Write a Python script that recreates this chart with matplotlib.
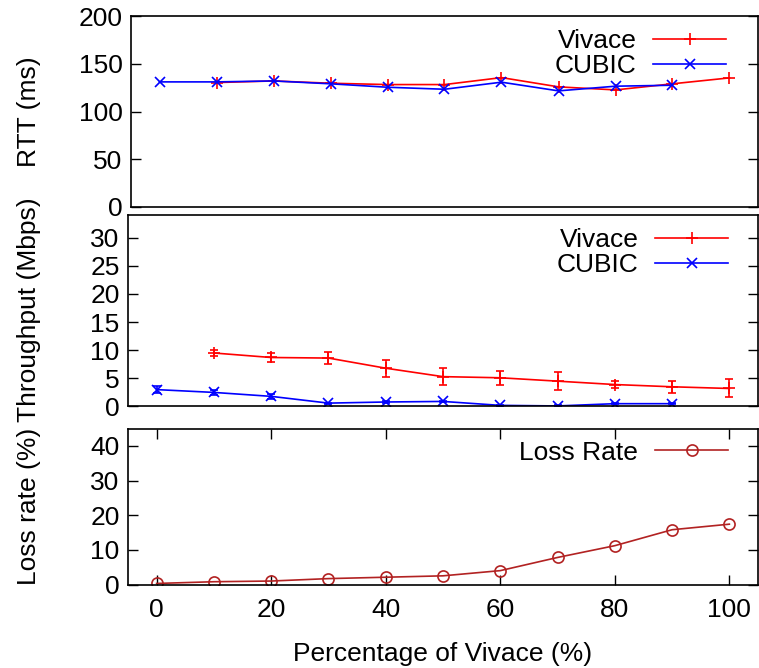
import matplotlib
matplotlib.use("Agg")
from matplotlib import pyplot as plt

plt.rcParams['font.family'] = ['Liberation Sans', 'DejaVu Sans']
plt.rcParams['font.size'] = 19

pct_vivace = [10, 20, 30, 40, 50, 60, 70, 80, 90, 100]
pct_cubic = [0, 10, 20, 30, 40, 50, 60, 70, 80, 90]
pct_all = [0, 10, 20, 30, 40, 50, 60, 70, 80, 90, 100]

rtt_vivace = [130.3, 132, 129.6, 128.2, 128.2, 135.5, 125.8, 122.6, 129, 135.2]
rtt_cubic = [131, 131, 132, 129, 125.4, 123.3, 130.7, 121.6, 126.5, 127.5]

tput_vivace = [9.5, 8.7, 8.6, 6.8, 5.3, 5.1, 4.5, 3.9, 3.5, 3.2]
tput_vivace_err = [0.5, 0.8, 1.1, 1.5, 1.5, 1.2, 1.6, 0.7, 1.1, 1.6]
tput_cubic = [3.0, 2.5, 1.8, 0.6, 0.8, 0.9, 0.2, 0.1, 0.5, 0.5]
tput_cubic_err = [0.6, 0.5, 0.4, 0.1, 0.1, 0.1, 0.1, 0.1, 0.1, 0.1]

loss_rate = [0.3, 0.8, 1.0, 1.7, 2.1, 2.5, 4.0, 7.8, 11.2, 15.8, 17.4]

W, H = 759, 668
fig = plt.figure(figsize=(W / 100, H / 100), dpi=100)


def px_axes(left, top, right, bottom):
    return fig.add_axes([left / W, 1 - bottom / H, (right - left) / W, (bottom - top) / H])


ax1 = px_axes(131, 16, 758, 207)
ax2 = px_axes(128, 215, 758, 406.5)
ax3 = px_axes(128, 428.5, 758, 584.5)

red = '#ff0000'
blue = '#0000ff'
brown = '#b22222'

# RTT
ax1.plot(pct_vivace, rtt_vivace, color=red, marker='+', ms=8, mew=1.2, lw=1.2, label='Vivace')
ax1.plot(pct_cubic, rtt_cubic, color=blue, marker='x', ms=7, mew=1.2, lw=1.2, label='CUBIC')
ax1.set_ylim(0, 200)
ax1.set_yticks([0, 50, 100, 150, 200])

# Throughput
ax2.errorbar(pct_vivace, tput_vivace, yerr=tput_vivace_err, color=red, marker='+', ms=8,
             mew=1.2, lw=1.2, capsize=3.2, elinewidth=1.2, capthick=1.2, label='Vivace')
ax2.errorbar(pct_cubic, tput_cubic, yerr=tput_cubic_err, color=blue, marker='x', ms=7,
             mew=1.2, lw=1.2, capsize=3.2, elinewidth=1.2, capthick=1.2, label='CUBIC')
ax2.set_ylim(0, 34)
ax2.set_yticks([0, 5, 10, 15, 20, 25, 30])

# Loss rate
ax3.plot(pct_all, loss_rate, color=brown, marker='o', ms=8, mfc='none', mew=1.2, lw=1.2,
         label='Loss Rate')
ax3.set_ylim(0, 45)
ax3.set_yticks([0, 10, 20, 30, 40])
ax3.set_xticks([0, 20, 40, 60, 80, 100])
ax3.set_xlabel('Percentage of Vivace (%)', labelpad=14)

for ax in (ax1, ax2, ax3):
    ax.set_xlim(-5, 105)
    for s in ax.spines.values():
        s.set_linewidth(1.2)
    ax.tick_params(axis='y', direction='in', length=7, width=1, left=True, right=True, pad=6)
    ax.tick_params(axis='x', direction='in', length=7, width=1, top=True, bottom=True, pad=10)

for ax in (ax1, ax2):
    ax.tick_params(axis='x', top=False, bottom=False, labelbottom=False)


def add_legend(ax, anchor):
    handles, labels = ax.get_legend_handles_labels()
    handles = [h[0] if isinstance(h, tuple) or hasattr(h, 'lines') and h.lines else h for h in handles]
    ax.legend(handles, labels, loc='upper right', bbox_to_anchor=anchor, frameon=False,
              markerfirst=False, handlelength=2.75, handletextpad=0.65, labelspacing=0.05,
              borderpad=0, borderaxespad=0, numpoints=1)


add_legend(ax1, ((726 - 131) / 627, 1 - 13 / 191))
add_legend(ax2, ((728 - 128) / 630, 1 - 13 / 191.5))
add_legend(ax3, ((728 - 128) / 630, 1 - 12 / 156))

fig.text(29, H - 112, 'RTT (ms)', rotation=90, ha='center', va='center',
         transform=None)
fig.text(29, H - 310, 'Throughput (Mbps)', rotation=90, ha='center', va='center',
         transform=None)
fig.text(29, H - 506, 'Loss rate (%)', rotation=90, ha='center', va='center',
         transform=None)

fig.savefig('out.png', dpi=100)
